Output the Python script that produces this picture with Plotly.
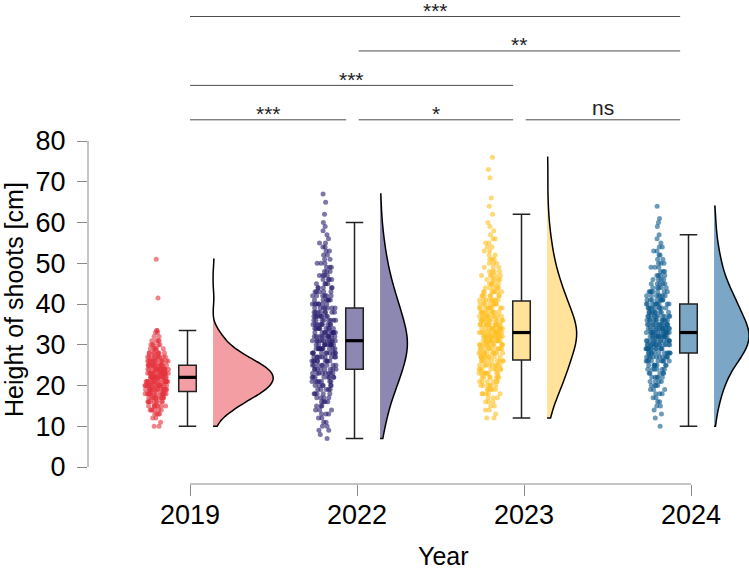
import numpy as np
import plotly.graph_objects as go

# ---------------- data (heights in cm, with number of shoots at each height) ----------------
years = ["2019", "2022", "2023", "2024"]

h2019 = [10, 11, 12, 13, 14, 15, 16, 17, 18, 19, 20, 21, 22, 23, 24, 25, 26, 27, 28, 29,
         30, 31, 32, 33, 33.5, 41.5, 51]
c2019 = [2, 1, 2, 4, 6, 8, 9, 11, 15, 16, 17, 18, 19, 18, 17, 15, 13, 10, 8, 6,
         5, 4, 2, 2, 2, 1, 1]

h2022 = [7, 8, 9, 10, 11, 12, 13, 14, 15, 16, 17, 18, 19, 20, 21, 22, 23, 24, 25, 26,
         27, 28, 29, 30, 31, 32, 33, 34, 35, 36, 37, 38, 39, 40, 41, 42, 43, 44, 45, 46,
         47, 48, 49, 50, 51, 52, 53, 54, 55, 56, 57, 58, 59, 60, 62, 65, 67]
c2022 = [1, 1, 2, 2, 2, 2, 3, 3, 3, 4, 4, 5, 5, 6, 7, 8, 8, 8, 8, 9,
         9, 10, 11, 11, 11, 10, 10, 9, 9, 8, 8, 8, 7, 7, 6, 6, 5, 5, 4, 4,
         4, 3, 3, 3, 2, 2, 2, 2, 2, 1, 1, 1, 1, 1, 1, 1, 1]

h2023 = [12, 13, 14, 15, 16, 17, 18, 19, 20, 21, 22, 23, 24, 25, 26, 27, 28, 29, 30, 31,
         32, 33, 34, 35, 36, 37, 38, 39, 40, 41, 42, 43, 44, 45, 46, 47, 48, 49, 50, 51,
         52, 53, 54, 55, 56, 57, 58, 59, 60, 62, 64, 66, 71, 73, 76]
c2023 = [2, 1, 2, 2, 3, 3, 5, 5, 6, 6, 7, 8, 8, 8, 9, 9, 10, 10, 11, 12,
         13, 13, 12, 12, 11, 10, 9, 9, 8, 8, 7, 7, 5, 5, 5, 5, 4, 3, 3, 3,
         2, 2, 2, 2, 2, 1, 1, 1, 1, 1, 1, 1, 1, 1, 1]

h2024 = [10, 12, 13, 14, 15, 16, 17, 18, 19, 20, 21, 22, 23, 24, 25, 26, 27, 28, 29, 30,
         31, 32, 33, 34, 35, 36, 37, 38, 39, 40, 41, 42, 43, 44, 45, 46, 47, 48, 49, 50,
         51, 52, 53, 54, 55, 56, 57, 59, 60, 61, 64]
c2024 = [1, 1, 1, 1, 2, 2, 2, 3, 3, 4, 4, 5, 5, 6, 7, 9, 10, 11, 12, 13,
         13, 14, 14, 13, 12, 11, 10, 9, 9, 9, 8, 7, 7, 5, 5, 4, 4, 3, 3, 3,
         2, 2, 2, 2, 1, 1, 1, 1, 1, 1, 1]

heights = [h2019, h2022, h2023, h2024]
counts = [c2019, c2022, c2023, c2024]

# significance comparisons (group index pairs, label)
sig_pairs = [(0, 1), (1, 2), (2, 3), (0, 2), (1, 3), (0, 3)]
sig_labels = ["***", "*", "ns", "***", "**", "***"]
sig_tier = [0, 0, 0, 1, 2, 3]

# ---------------- styles ----------------
point_colors = ["rgb(228,52,62)", "rgb(38,28,108)", "rgb(255,190,30)", "rgb(10,88,140)"]
fill_colors = ["#F29EA2", "#8D88B2", "#FFE39B", "#7BA6C5"]
FONT = "Liberation Sans, Arial, Helvetica, sans-serif"

pos = [1, 2, 3, 4]
PT_OFF, BOX_OFF, VIO_OFF = -0.198, -0.015, 0.138
BOX_W = 0.105

fig = go.Figure()
for i in range(4):
    vals = np.repeat(np.array(heights[i], dtype=float), counts[i])
    n = len(vals)
    xc = pos[i]
    # jittered raw points
    fig.add_trace(go.Box(
        y=vals, x=[xc + PT_OFF] * n, width=0.145, boxpoints="all", jitter=1, pointpos=0,
        fillcolor="rgba(0,0,0,0)", line=dict(width=0, color="rgba(0,0,0,0)"),
        marker=dict(color=point_colors[i], size=5, opacity=0.6),
        hoverinfo="y", showlegend=False))
    # box
    fig.add_trace(go.Box(
        y=vals, x=[xc + BOX_OFF] * n, width=BOX_W, boxpoints="outliers",
        marker=dict(color="rgba(0,0,0,0)", size=1),
        fillcolor=fill_colors[i], line=dict(color="#222222", width=1.5), whiskerwidth=1,
        hoverinfo="y", showlegend=False))
    # thick median line
    med = float(np.median(vals))
    fig.add_trace(go.Scatter(
        x=[xc + BOX_OFF - BOX_W / 2, xc + BOX_OFF + BOX_W / 2], y=[med, med], mode="lines",
        line=dict(color="black", width=3.2), hoverinfo="skip", showlegend=False))
    # half violin (densities share one scale across groups)
    fig.add_trace(go.Violin(
        y=vals, x=[xc + VIO_OFF] * n, side="positive", points=False,
        spanmode="hard", scalegroup="all", scalemode="width",
        fillcolor=fill_colors[i], line=dict(color="black", width=1.5),
        box_visible=False, meanline_visible=False, hoverinfo="skip", showlegend=False))

# significance brackets
sig_y0, sig_dy = 85.2, 8.45
for (a, b), lab, t in zip(sig_pairs, sig_labels, sig_tier):
    x0 = pos[a] + (0.01 if a > 0 else 0.0)
    x1 = pos[b] - 0.065
    yy = sig_y0 + t * sig_dy
    fig.add_shape(type="line", x0=x0, x1=x1, y0=yy, y1=yy, xref="x", yref="y",
                  line=dict(color="#4d4d4d", width=1))
    off = 3.0 if lab == "ns" else 1.5
    fig.add_annotation(x=(x0 + x1) / 2, y=yy + off, text=lab, showarrow=False,
                       xref="x", yref="y", yanchor="middle",
                       font=dict(family=FONT, size=21, color="#222222"))

# R-style axis lines (only over the tick range)
fig.add_shape(type="line", xref="paper", yref="y", x0=0, x1=0, y0=0, y1=80,
              line=dict(color="#8a8a8a", width=1))
fig.add_shape(type="line", xref="x", yref="paper", x0=1, x1=4, y0=0, y1=0,
              line=dict(color="#8a8a8a", width=1))

# axis titles
fig.add_annotation(text="Year", xref="paper", yref="paper", x=(443 - 88) / 661,
                   y=(484 - 556) / 484, showarrow=False, xanchor="center", yanchor="middle",
                   font=dict(family=FONT, size=25, color="black"))
fig.add_annotation(text="Height of shoots [cm]", xref="paper", yref="paper",
                   x=(14 - 88) / 661, y=(484 - 300) / 484, textangle=-90, showarrow=False,
                   xanchor="center", yanchor="middle",
                   font=dict(family=FONT, size=25, color="black"))

fig.update_layout(
    width=749, height=569,
    margin=dict(l=88, r=0, t=0, b=85),
    paper_bgcolor="white", plot_bgcolor="white",
    boxmode="overlay", violinmode="overlay", violingap=0.28, violingroupgap=0,
    showlegend=False,
    font=dict(family=FONT, color="black"),
    xaxis=dict(range=[0.3892, 0.3892 + 661 / 167], tickvals=pos, ticktext=years,
               showgrid=False, zeroline=False, showline=False,
               ticks="outside", ticklen=11, tickcolor="#8a8a8a", tickwidth=1,
               tickfont=dict(family=FONT, size=27, color="black"), ticklabelstandoff=-4),
    yaxis=dict(range=[(467 - 484) / 4.075, 467 / 4.075], tickvals=[0, 10, 20, 30, 40, 50, 60, 70, 80],
               showgrid=False, zeroline=False, showline=False,
               ticks="outside", ticklen=10, tickcolor="#8a8a8a", tickwidth=1,
               tickfont=dict(family=FONT, size=27, color="black"), ticklabelstandoff=6),
)

fig.write_html("out.html")
